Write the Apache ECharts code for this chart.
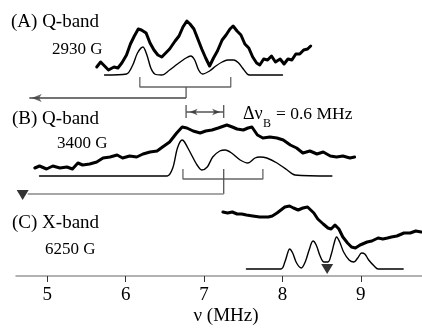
<!DOCTYPE html>
<html>
<head>
<meta charset="utf-8">
<script src="https://cdn.jsdelivr.net/npm/echarts@6/dist/echarts.min.js"></script>
<style>html,body{margin:0;padding:0;background:#fff}#c{width:422px;height:331px}</style>
</head>
<body>
<div id="c"></div>
<script>
// ---- data (frequency in MHz, signal level in arbitrary stacked units) ----
const tickValues = [5, 6, 7, 8, 9];

const aExpFreq = [5.63,5.68,5.73,5.78,5.85,5.90,5.95,6.01,6.06,6.11,6.16,6.20,6.26,6.31,6.36,6.41,6.46,6.51,6.56,6.63,6.68,6.73,6.78,6.82,6.87,6.92,6.97,7.02,7.07,7.12,7.17,7.23,7.28,7.33,7.37,7.42,7.47,7.52,7.57,7.62,7.67,7.71,7.76,7.81,7.86,7.91,7.97,8.02,8.07,8.12,8.17,8.22,8.27,8.32,8.36];
const aExpLevel = [209,214,210,206,209,208,213,221,232,240,247,246,243,233,226,221,219,223,227,235,240,249,255,252,247,237,227,218,210,218,225,236,241,247,250,245,241,232,228,219,213,211,217,216,220,214,217,212,217,216,222,222,226,227,230];

const aSimFreq = [5.73,6.01,6.09,6.15,6.22,6.27,6.32,6.37,6.46,6.56,6.66,6.77,6.83,6.88,6.93,6.98,7.07,7.15,7.23,7.30,7.38,7.44,7.49,7.55,7.58,8.00];
const aSimLevel = [201,202,211,223,229,221,208,202,201,206,212,218,220,216,206,202,205,210,214,216,216,213,208,202,201,201];

const bExpFreq = [4.84,4.90,4.99,5.07,5.16,5.25,5.32,5.39,5.45,5.54,5.63,5.71,5.80,5.89,5.96,6.05,6.14,6.22,6.31,6.40,6.47,6.56,6.65,6.72,6.78,6.86,6.95,7.02,7.10,7.18,7.29,7.36,7.42,7.50,7.56,7.61,7.68,7.75,7.84,7.93,8.01,8.10,8.18,8.26,8.35,8.44,8.52,8.61,8.69,8.77,8.86,8.92];
const bExpLevel = [108,110,107,110,108,109,107,113,111,112,114,118,119,121,118,120,119,122,124,125,129,134,143,149,148,145,143,145,146,148,151,149,147,146,148,149,141,138,139,138,136,131,128,123,125,122,124,120,119,120,118,119];

const bSimFreq = [4.90,6.53,6.60,6.66,6.72,6.75,6.82,6.91,6.97,7.04,7.11,7.20,7.27,7.35,7.46,7.56,7.65,7.71,7.80,7.93,8.06,8.16,8.63];
const bSimLevel = [100,100,108,128,136,134,124,111,106,109,119,125,126,123,116,113,118,119,118,113,106,101,100];

const cExpFreq = [7.24,7.30,7.36,7.42,7.48,7.54,7.62,7.71,7.82,7.87,7.93,7.98,8.03,8.09,8.14,8.20,8.26,8.32,8.40,8.45,8.52,8.58,8.62,8.67,8.72,8.77,8.83,8.88,8.93,8.99,9.08,9.14,9.22,9.28,9.34,9.39,9.46,9.55,9.63,9.70,9.77];
const cExpLevel = [64,63,64,62,62,61,60,59,59,60,63,66,69,70,68,66,68,69,63,57,52,48,47,51,47,39,33,29,28,31,34,35,38,37,38,39,40,43,43,45,44];

const cSimFreq = [7.54,7.98,8.03,8.07,8.09,8.13,8.18,8.24,8.29,8.34,8.39,8.43,8.48,8.53,8.58,8.62,8.66,8.69,8.73,8.78,8.85,8.91,8.96,9.01,9.05,9.10,9.17,9.22,9.54];
const cSimLevel = [7,7,14,24,27,23,13,8,14,26,35,31,20,14,14,21,33,39,34,24,16,14,18,23,22,16,10,7,7];

// stick (splitting) diagrams: left, centre, right line frequencies
const aSticks = [6.18, 6.77, 7.34];
const bSticks = [6.73, 7.25, 7.75];
const aStickLevels = [199, 189, 178];   // top of legs, bar, arrow line
const bStickLevels = [107, 97, 82];
const arrowEndFreq = 4.77;
const bMarkerFreq = 4.685;
const cMarkerFreq = 8.57;
const cMarkerLevel = 7;
const dNuLevels = [171, 164, 158];       // bar top, arrow line, bar bottom

const zip = (xs, ys) => xs.map((x, i) => [x, ys[i]]);

const chart = echarts.init(document.getElementById('c'), null, {renderer: 'canvas'});
const serif = '"Liberation Serif", "Times New Roman", serif';

function curve(f, l, w, smooth) {
  return {type: 'line', data: zip(f, l), symbol: 'none', smooth: smooth,
    lineStyle: {color: '#000', width: w, cap: 'round', join: 'round'}, silent: true, z: 3};
}
function seg(points, color, w) {
  return {type: 'line', data: points, symbol: 'none', smooth: false, connectNulls: false,
    lineStyle: {color: color, width: w}, silent: true, z: 2};
}
function head(x, y, rot, size, color, sym) {
  return {type: 'scatter', data: [[x, y]], symbol: sym || 'arrow', symbolSize: size,
    symbolRotate: rot, itemStyle: {color: color}, silent: true, z: 4};
}

const bracket = (s, lv) => [[s[0], lv[0]], [s[0], lv[1]], [s[2], lv[1]], [s[2], lv[0]]];

const option = {
  animation: false,
  backgroundColor: '#fff',
  grid: {left: 16, right: 0, top: 0, bottom: 55, containLabel: false, outerBoundsMode: 'none'},
  xAxis: {
    type: 'value', min: 4.6, max: 9.78,
    axisLine: {show: true, lineStyle: {color: '#999', width: 1.5}},
    axisTick: {show: true, customValues: tickValues, length: 6, inside: false, lineStyle: {color: '#333', width: 1}},
    axisLabel: {show: true, customValues: tickValues, margin: 10, color: '#000', fontSize: 19, fontFamily: serif},
    splitLine: {show: false}
  },
  yAxis: {type: 'value', min: 0, max: 276, show: false},
  series: [
    curve(aExpFreq, aExpLevel, 3, false),
    curve(aSimFreq, aSimLevel, 1.4, 0.3),
    curve(bExpFreq, bExpLevel, 3, false),
    curve(bSimFreq, bSimLevel, 1.4, 0.3),
    curve(cExpFreq, cExpLevel, 3, false),
    curve(cSimFreq, cSimLevel, 1.4, 0.35),
    // bracket A
    seg(bracket(aSticks, aStickLevels), '#666', 1.3),
    seg([[aSticks[1], aStickLevels[1]], [aSticks[1], aStickLevels[2]]], '#555', 1.3),
    seg([[aSticks[1], aStickLevels[2]], [arrowEndFreq, aStickLevels[2]]], '#444', 1.3),
    head(arrowEndFreq + 0.03, aStickLevels[2], 90, [6, 10], '#444'),
    // bracket B
    seg(bracket(bSticks, bStickLevels), '#666', 1.3),
    seg([[bSticks[1], bStickLevels[0]], [bSticks[1], bStickLevels[2]]], '#555', 1.3),
    seg([[bSticks[1], bStickLevels[2]], [arrowEndFreq - 0.02, bStickLevels[2]]], '#888', 1.3),
    head(bMarkerFreq, bStickLevels[2] - 1, 180, [12, 10], '#000', 'triangle'),
    // Δν marker
    seg([[aSticks[1], dNuLevels[1]], [bSticks[1], dNuLevels[1]]], '#555', 1.3),
    seg([[aSticks[1], dNuLevels[0]], [aSticks[1], dNuLevels[2]]], '#555', 1.3),
    seg([[bSticks[1], dNuLevels[0]], [bSticks[1], dNuLevels[2]]], '#555', 1.3),
    head(aSticks[1] + 0.045, dNuLevels[1], 90, [5, 8], '#333'),
    head(bSticks[1] - 0.045, dNuLevels[1], -90, [5, 8], '#333'),
    // C marker
    head(cMarkerFreq, cMarkerLevel, 180, [12, 10], '#000', 'triangle')
  ],
  graphic: [
    {type: 'text', x: 11, y: 22, style: {text: '(A) Q-band', font: '19px ' + serif, fill: '#000', verticalAlign: 'middle'}},
    {type: 'text', x: 52, y: 50, style: {text: '2930 G', font: '17px ' + serif, fill: '#000', verticalAlign: 'middle'}},
    {type: 'text', x: 12, y: 119, style: {text: '(B) Q-band', font: '19px ' + serif, fill: '#000', verticalAlign: 'middle'}},
    {type: 'text', x: 57, y: 144, style: {text: '3400 G', font: '17px ' + serif, fill: '#000', verticalAlign: 'middle'}},
    {type: 'text', x: 12, y: 223, style: {text: '(C) X-band', font: '19px ' + serif, fill: '#000', verticalAlign: 'middle'}},
    {type: 'text', x: 45, y: 250, style: {text: '6250 G', font: '17px ' + serif, fill: '#000', verticalAlign: 'middle'}},
    {type: 'text', x: 243, y: 114, style: {text: 'Δν', font: '18px ' + serif, fill: '#000', verticalAlign: 'middle'}},
    {type: 'text', x: 263, y: 124, style: {text: 'B', font: '12px ' + serif, fill: '#000', verticalAlign: 'middle'}},
    {type: 'text', x: 276, y: 114, style: {text: '= 0.6 MHz', font: '17.5px ' + serif, fill: '#000', verticalAlign: 'middle'}},
    {type: 'text', x: 226, y: 316, style: {text: 'ν (MHz)', font: '19px ' + serif, fill: '#000', align: 'center', verticalAlign: 'middle'}}
  ]
};
chart.setOption(option);
</script>
</body>
</html>
